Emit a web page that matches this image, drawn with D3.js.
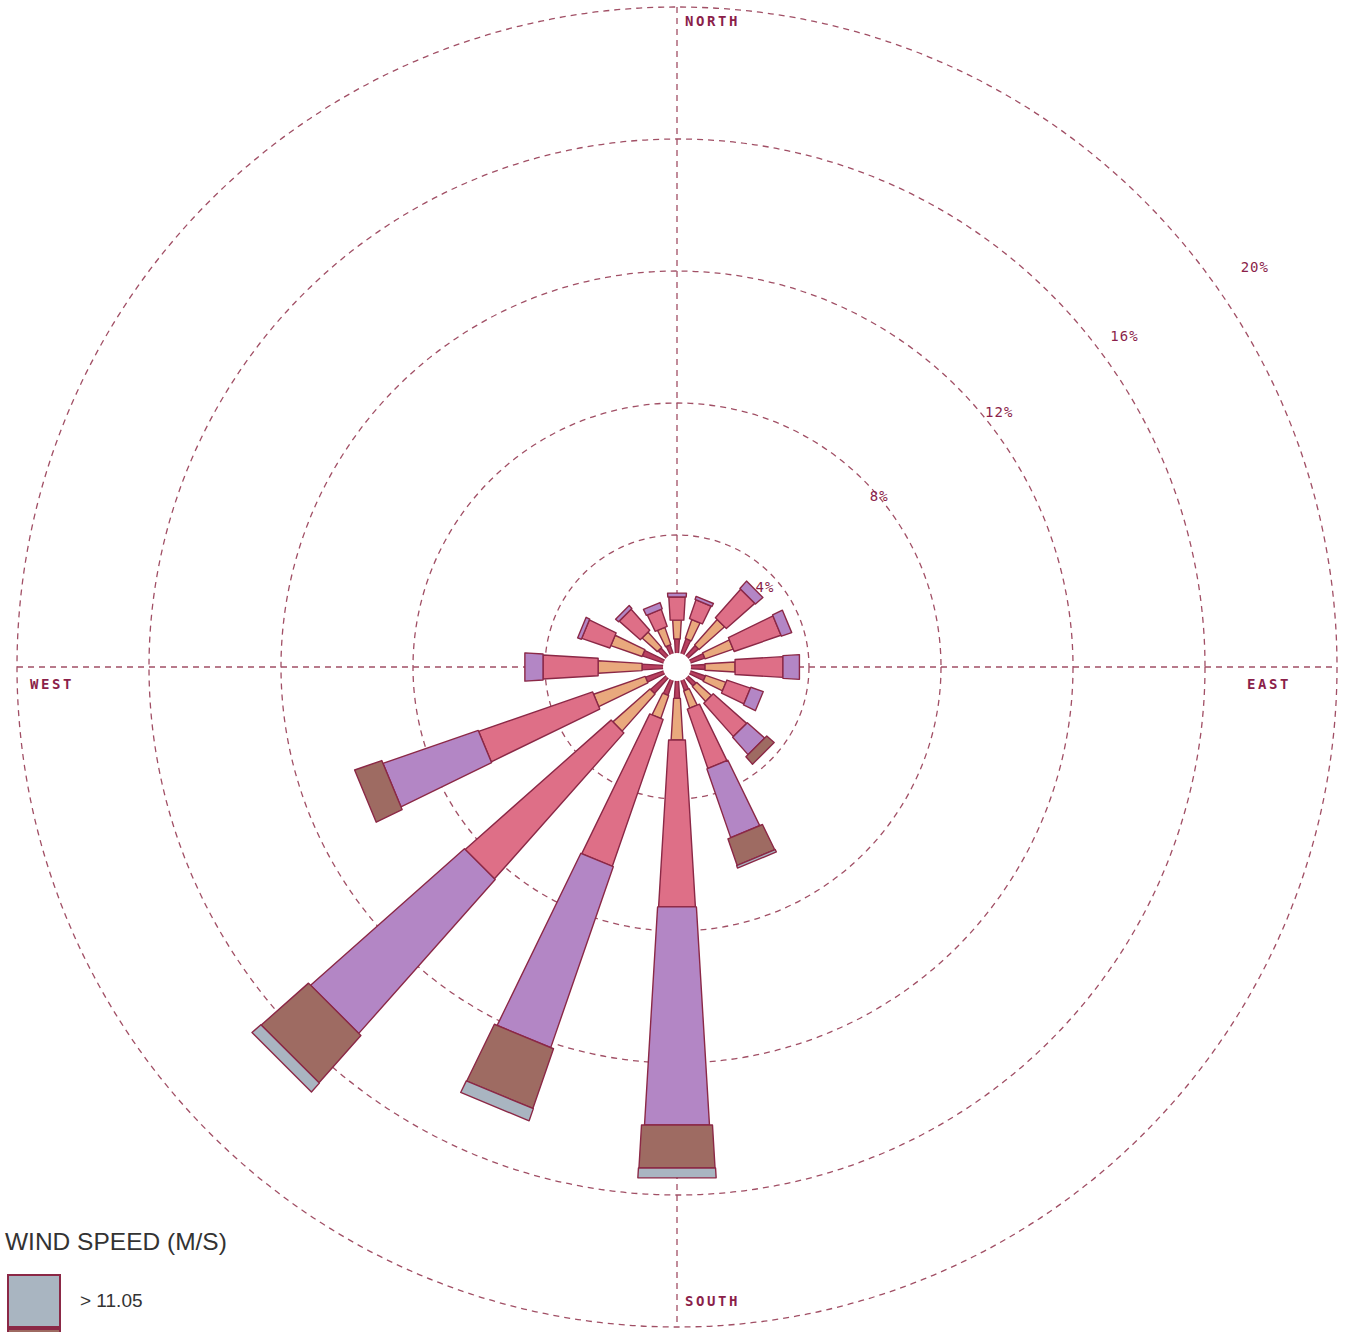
<!DOCTYPE html>
<html>
<head>
<meta charset="utf-8">
<script src="https://cdn.jsdelivr.net/npm/d3@7"></script>
<style>
  html, body { margin: 0; padding: 0; background: #ffffff; overflow: hidden; }
  svg { display: block; }
</style>
</head>
<body>
<svg id="chart" width="1347" height="1332"></svg>
<script>
// ---------------- DATA ----------------
const directions = ["N","NNE","NE","ENE","E","ESE","SE","SSE","S","SSW","SW","WSW","W","WNW","NW","NNW"];
const speedClasses = ["0.50 - 2.10","2.10 - 3.60","3.60 - 5.70","5.70 - 8.80","8.80 - 11.05","> 11.05"];
// frequency (%) per direction for each wind speed class
const class1 = [0.85,0.90,0.85,0.88,0.85,0.90,0.75,0.75,0.95,0.90,1.05,1.00,1.06,1.10,0.75,0.70];
const class2 = [0.57,0.60,1.03,0.90,0.91,0.65,0.60,0.55,1.26,0.73,1.50,1.65,1.33,1.00,0.62,0.55];
const class3 = [0.70,0.60,1.15,1.50,1.45,0.75,1.35,1.90,5.06,4.70,5.90,3.65,1.67,0.90,0.85,0.55];
const class4 = [0.12,0.10,0.30,0.33,0.50,0.40,0.70,2.20,6.61,5.79,6.22,3.05,0.55,0.12,0.12,0.20];
const class5 = [0.00,0.00,0.00,0.00,0.00,0.00,0.30,0.85,1.30,1.91,1.91,0.87,0.00,0.00,0.00,0.00];
const class6 = [0.00,0.00,0.00,0.00,0.00,0.00,0.00,0.08,0.30,0.39,0.36,0.00,0.00,0.00,0.00,0.00];
const ringValues = [4, 8, 12, 16, 20];
const ringLabels = ["4%", "8%", "12%", "16%", "20%"];
const compassLabels = ["NORTH", "EAST", "SOUTH", "WEST"];
const legendTitle = "WIND SPEED (M/S)";

// ---------------- STYLE ----------------
const classColors = ["#b8405f", "#e9a97d", "#de6f87", "#b386c5", "#9e6b62", "#a9b5c1"];
const outline = "#8b2846";
const gridColor = "#a14f65";
const labelColor = "#8b1f4a";

const svg = d3.select("#chart");
const W = 1347, H = 1332;
const cx = 677, cy = 667;
const r = d3.scaleLinear().domain([0, 20]).range([0, 660]);
const angle = d3.scalePoint().domain(directions).range([0, 360 - 22.5]);

// table for stacking
const table = directions.map((d, i) => {
  const row = { dir: d };
  [class1, class2, class3, class4, class5, class6].forEach((arr, k) => row[speedClasses[k]] = arr[i]);
  return row;
});
const stacked = d3.stack().keys(speedClasses)(table);

function pt(aDeg, rr, s) {
  const a = aDeg * Math.PI / 180;
  return [cx + rr * Math.sin(a) + s * Math.cos(a), cy - rr * Math.cos(a) + s * Math.sin(a)];
}

// ---------------- GRID ----------------
const grid = svg.append("g");
grid.selectAll("circle.ring").data(ringValues).join("circle")
  .attr("cx", cx).attr("cy", cy).attr("r", d => r(d))
  .attr("fill", "none").attr("stroke", gridColor).attr("stroke-width", 1.3)
  .attr("stroke-dasharray", "6,5");
grid.append("line").attr("x1", cx).attr("x2", cx).attr("y1", cy - r(20)).attr("y2", cy + r(20))
  .attr("stroke", gridColor).attr("stroke-width", 1.3).attr("stroke-dasharray", "6,5");
grid.append("line").attr("y1", cy).attr("y2", cy).attr("x1", cx - r(20)).attr("x2", cx + r(20))
  .attr("stroke", gridColor).attr("stroke-width", 1.3).attr("stroke-dasharray", "6,5");

// ring labels
const labAng = d => (40 - (d - 8) * 0.45) * Math.PI / 180;
const labRad = d => r(d) + (d - 8) * 3.5;
grid.selectAll("text.ring").data(ringValues).join("text")
  .attr("x", d => cx + labRad(d) * Math.cos(labAng(d)))
  .attr("y", d => cy - labRad(d) * Math.sin(labAng(d)))
  .attr("text-anchor", "middle").attr("dominant-baseline", "middle")
  .attr("font-family", "'DejaVu Sans Mono', monospace").attr("font-size", 14)
  .attr("fill", labelColor).attr("letter-spacing", 1)
  .text((d, i) => ringLabels[i]);

// compass labels
const compassPos = [
  { x: cx + 8, y: cy - r(20) + 19 },
  { x: cx + r(20) - 90, y: cy + 22 },
  { x: cx + 8, y: cy + r(20) - 21 },
  { x: cx - r(20) + 13, y: cy + 22 }
];
grid.selectAll("text.compass").data(compassLabels).join("text")
  .attr("x", (d, i) => compassPos[i].x).attr("y", (d, i) => compassPos[i].y)
  .attr("text-anchor", "start")
  .attr("font-family", "'DejaVu Sans Mono', monospace").attr("font-weight", "bold")
  .attr("font-size", 14).attr("letter-spacing", 2.6)
  .attr("fill", labelColor)
  .text(d => d);

// ---------------- BARS ----------------
const slope = 0.12;
const base = [1.5, 3, 8, 10, 16, 17];
function hw(rr, k) { return (slope * rr + base[k]) / 2; }
const line = d3.line();
const bars = svg.append("g");
stacked.forEach((series, k) => {
  bars.selectAll("path.c" + k).data(series.filter(d => d[1] - d[0] > 0)).join("path")
    .attr("d", d => {
      const a = angle(d.data.dir);
      const r0 = r(d[0]), r1 = r(d[1]);
      return line([pt(a, r0, -hw(r0, k)), pt(a, r1, -hw(r1, k)), pt(a, r1, hw(r1, k)), pt(a, r0, hw(r0, k))]) + "Z";
    })
    .attr("fill", classColors[k]).attr("stroke", outline).attr("stroke-width", 1.4)
    .attr("stroke-linejoin", "round");
});
// calm circle
svg.append("circle").attr("cx", cx).attr("cy", cy).attr("r", 14).attr("fill", "#ffffff");

// ---------------- LEGEND ----------------
const legend = svg.append("g");
legend.append("text").attr("x", 5).attr("y", 1250)
  .attr("font-family", "'Liberation Sans', Arial, sans-serif").attr("font-size", 24.5)
  .attr("fill", "#333333").text(legendTitle);
const legendOrder = speedClasses.map((d, i) => i).reverse();
const legendTop = 1275, legendStep = 54;
const li = legend.selectAll("g.item").data(legendOrder).join("g")
  .attr("transform", (d, i) => `translate(0, ${legendTop + i * legendStep})`);
li.append("rect").attr("x", 8).attr("y", 0).attr("width", 52).attr("height", 52)
  .attr("fill", d => classColors[d]).attr("stroke", outline).attr("stroke-width", 2);
// only labels that fit inside the page are written
li.filter((d, i) => legendTop + i * legendStep + 40 < H)
  .append("text").attr("x", 80).attr("y", 32)
  .attr("font-family", "'Liberation Sans', Arial, sans-serif").attr("font-size", 19)
  .attr("fill", "#333333").text(d => speedClasses[d]);
</script>
</body>
</html>
